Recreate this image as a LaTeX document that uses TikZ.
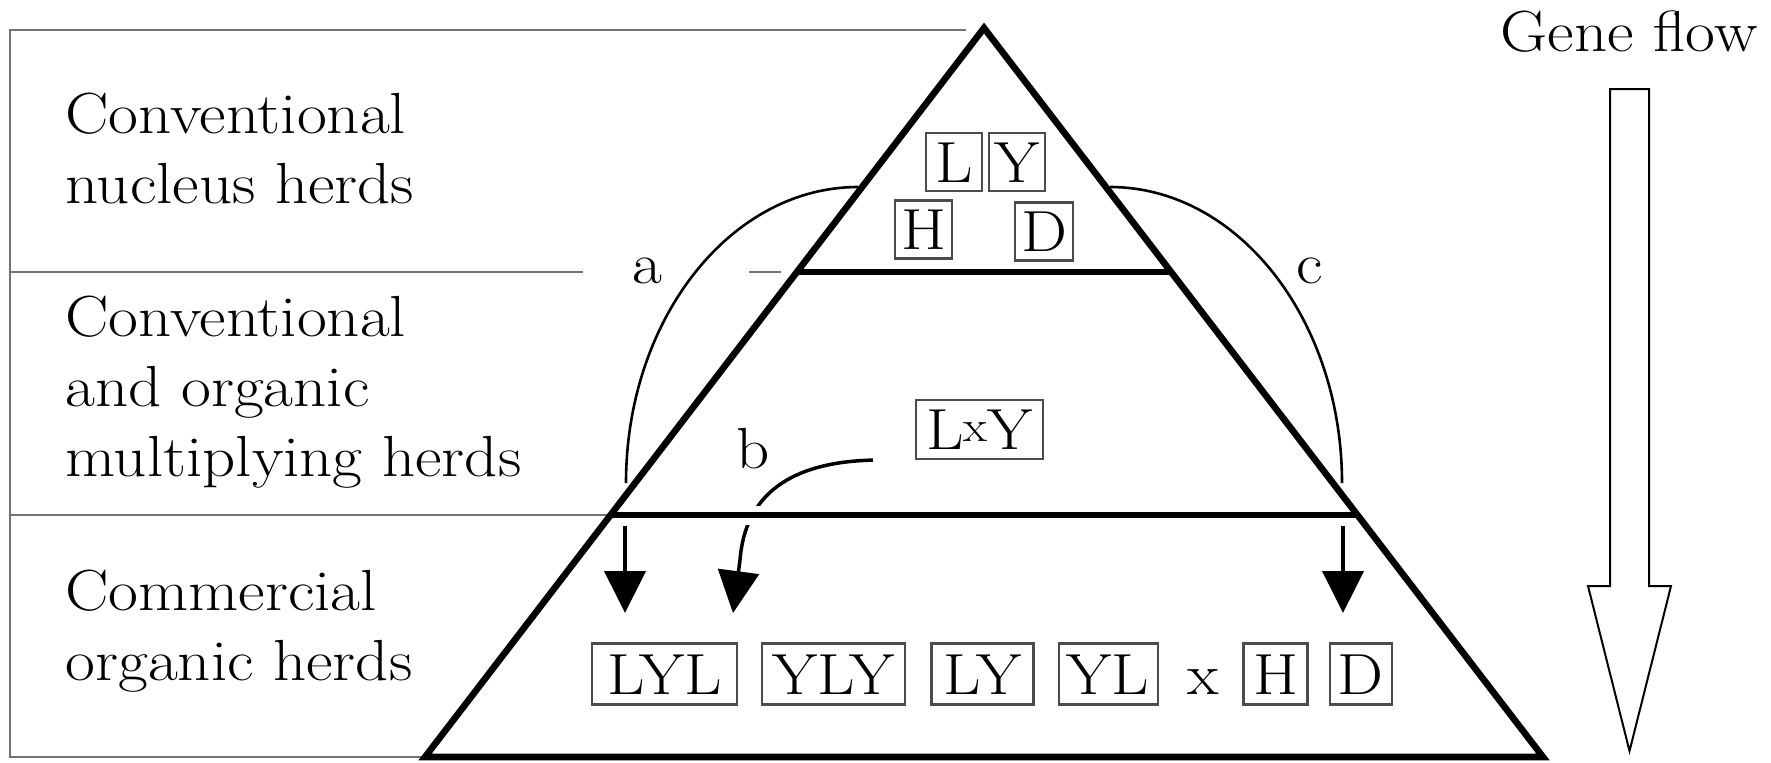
\documentclass[tikz,border=0pt]{standalone}
\usepackage{fontspec}
\setmainfont{Latin Modern Roman}[FakeStretch=1.12]
\usepackage{tikz}
\usetikzlibrary{arrows.meta,positioning}

\begin{document}
\begin{tikzpicture}[x=0.5pt,y=-0.5pt,
  font=\fontsize{29}{35}\selectfont,
  tier/.style={align=left,anchor=north west,inner sep=0pt},
  rule/.style={draw=black!55,line width=1.4pt},
  level/.style={line width=3.3pt,preaction={draw=white,line width=9.5pt}},
  breed/.style={draw=black!70,line width=1.1pt,inner xsep=0pt,inner ysep=0pt,
    minimum height=29pt,text height=20pt,text depth=0pt},
  lab/.style={anchor=base,inner sep=0pt},
  >={Triangle[width=20.5pt,length=21pt]},
  flow/.style={->,line width=2pt},
  cross/.style={line width=1.3pt}]
  \useasboundingbox (0,0) rectangle (1771,762);
  % pyramid corners
  \coordinate (apex) at (984,28);
  \coordinate (bl) at (425,757);
  \coordinate (br) at (1543,757);
  \coordinate (l1) at (797,272); \coordinate (r1) at (1171,272);
  \coordinate (l2) at (610.6,515); \coordinate (r2) at (1357.4,515);
  % table on the left
  \draw[rule] (966,30) -- (10,30) -- (10,757) -- (bl);
  \draw[rule] (10,272) -- (583,272);
  \draw[rule] (749,272) -- (781,272);
  \draw[rule] (10,515) -- (l2);
  \node[tier] (nucleus) at (65,93) {Conventional\\nucleus herds};
  \node[tier] (multi) at (65,296) {Conventional\\and organic\\multiplying herds};
  \node[tier] (comm) at (65,570) {Commercial\\organic herds};
  % breeds
  \node[breed,minimum width=28pt] (tl) at (954,162) {L};
  \node[breed,minimum width=28pt,right=2.5pt of tl] (ty) {Y};
  \node[breed,minimum width=28.5pt] (th) at (923.5,229.5) {H};
  \node[breed,minimum width=29pt] (td) at (1044,231.5) {D};
  \node[breed,minimum width=63.5pt,minimum height=29.5pt] (lxy) at (979.5,429.5)
    {L\raisebox{4pt}{\fontsize{22}{26}\selectfont x}Y};
  \node[breed,minimum width=72.5pt,minimum height=30.5pt] (lyl) at (664.5,674) {LYL};
  \node[breed,minimum width=71.5pt,minimum height=30.5pt,right=11.5pt of lyl] (yly) {YLY};
  \node[breed,minimum width=51pt,minimum height=30.5pt,right=12pt of yly] (ly) {LY};
  \node[breed,minimum width=49.5pt,minimum height=30.5pt,right=11.5pt of ly] (yl) {YL};
  \node[breed,draw=none,right=14pt of yl] (times) {x};
  \node[breed,minimum width=32pt,minimum height=30.5pt,right=11pt of times] (bh) {H};
  \node[breed,minimum width=31pt,minimum height=30.5pt,right=10pt of bh] (bd) {D};
  % crossing b
  \coordinate (t2) at (733,613);
  \draw[flow,line width=1.75pt] ([xshift=-21pt]lxy.south west)
    .. controls (790,462) and (745,495) .. (740,560) -- (t2);
  % pyramid
  \draw[level] (l1) -- (r1);
  \draw[level] (l2) -- (r2);
  \draw[line width=3.3pt,line join=miter] (bl) -- (apex) -- (br) -- cycle;
  \draw[cross] (858,187) .. controls (730,187) and (626,320) .. (626,483);
  \draw[cross] (1110,187) .. controls (1238,187) and (1342,320) .. (1342,483);
  \node[lab] (a) at (647,283) {a};
  \node[lab] (b) at (753,468) {b};
  \node[lab] (c) at (1310,283) {c};
  \coordinate (s1) at (625,526); \coordinate (t1) at (625,613);
  \coordinate (s3) at (1343,526); \coordinate (t3) at (1343,613);
  \draw[flow] (s1) -- (t1);
  \draw[flow] (s3) -- (t3);
  % gene flow
  \node[lab] (gene) at (1629,51) {Gene flow};
  \draw[line width=1pt] (1610,89) -- (1649,89) -- (1649,586) -- (1671,586)
    -- (1629.5,751) -- (1588,586) -- (1610,586) -- cycle;
\end{tikzpicture}
\end{document}
